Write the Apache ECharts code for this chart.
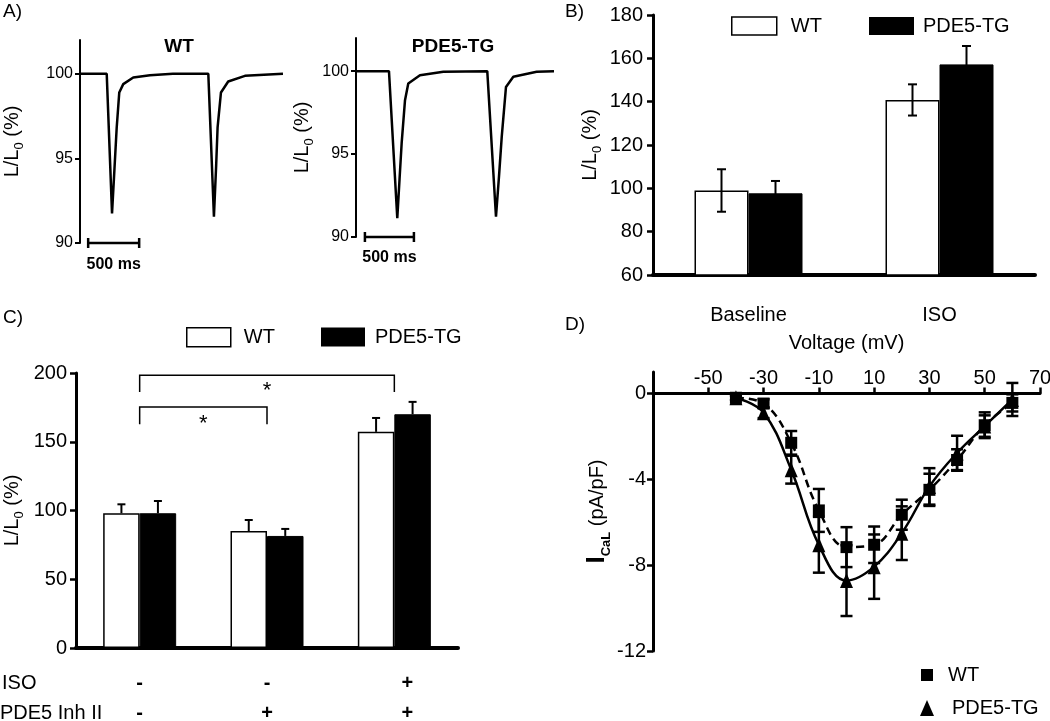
<!DOCTYPE html>
<html><head><meta charset="utf-8">
<script src="https://cdn.jsdelivr.net/npm/echarts@6/dist/echarts.min.js"></script>
<style>html,body{margin:0;padding:0;background:#fff}#c{width:1050px;height:721px}</style>
</head><body><div id="c"></div>
<script>
// ---------- Panel A: cell shortening traces (time in ms, L/L0 in %) ----------
const traceWT = [[0,100],[262,100],[314,91.75],[338,94.4],[360,96.84],[385,98.9],[424,99.39],[522,99.78],[686,99.92],[911,100],[1258,100],[1313,91.55],[1335,94.6],[1349,96.84],[1382,98.9],[1453,99.55],[1617,99.88],[1990,100]];
const traceTG = [[0,100],[333,100],[417,91.13],[440,93.5],[461,95.64],[495,98.25],[528,99.26],[646,99.76],[882,99.96],[1326,100],[1414,91.22],[1445,93.7],[1472,96.04],[1515,99.05],[1589,99.66],[1825,99.96],[2000,100]];
const scaleBarWT = [[80, 580, 90]];
const scaleBarTG = [[90, 585, 90]];
const scaleBarLabel = '500 ms';
const traceTicks = [90, 95, 100];

// ---------- Panel B ----------
const bCategories = ['Baseline', 'ISO'];
const bWT = [99, 140.8];
const bWTerr = [9.8, 7.2];
const bTG = [97.7, 157.2];
const bTGerr = [5.7, 8.5];

// ---------- Panel C ----------
const cCategories = ['-\n-', '-\n+', '+\n+'];
const cRowNames = ['ISO', 'PDE5 Inh II'];
const cWT = [98, 85.1, 157.2];
const cWTerr = [6.5, 8, 10.1];
const cTG = [98, 81.5, 170];
const cTGerr = [8.9, 5.1, 9];
// [from category, to category, bracket top, bracket end, asterisk level]
const cBrackets = [[0, 2, 198.3, 186.2, 191], [0, 1, 175.3, 162.8, 167.5]];

// ---------- Panel D ----------
const dVoltage = [-40, -30, -20, -10, 0, 10, 20, 30, 40, 50, 60];
const dWT    = [-0.2, -0.47, -2.3, -5.45, -7.16, -7.05, -5.65, -4.49, -3.1, -1.48, -0.44];
const dWTerr = [0.1, 0.2, 0.55, 1.0, 0.93, 0.85, 0.7, 0.75, 0.5, 0.6, 0.4];
const dTG    = [-0.2, -0.9, -3.55, -7.05, -8.72, -8.07, -6.51, -4.33, -2.77, -1.52, -0.28];
const dTGerr = [0.1, 0.25, 0.65, 1.3, 1.65, 1.5, 1.25, 0.85, 0.8, 0.5, 0.77];
const dYTicks = [-12, -8, -4, 0];

const FF = "'Liberation Sans', Arial, sans-serif";
const BLACK = '#000';

function txt(x, y, text, size, weight, align) {
  return { type: 'text', x: x, y: y, silent: true,
    style: { text: text, fill: BLACK, font: (weight || 'normal') + ' ' + size + 'px ' + FF,
      fontSize: size, fontWeight: weight || 'normal', fontFamily: FF,
      align: align || 'left', textAlign: align || 'left', verticalAlign: 'middle', textVerticalAlign: 'middle' } };
}

function errRender(offset, capW, upOnly, lw) {
  return function (params, api) {
    const c = api.value(0), v = api.value(1), e = api.value(2);
    const top = api.coord([c, v + e]);
    const bot = api.coord([c, upOnly ? v : v - e]);
    const x = top[0] + offset;
    const st = { stroke: BLACK, lineWidth: lw, fill: null };
    const ch = [
      { type: 'line', shape: { x1: x, y1: bot[1], x2: x, y2: top[1] }, style: st },
      { type: 'line', shape: { x1: x - capW / 2, y1: top[1], x2: x + capW / 2, y2: top[1] }, style: st }
    ];
    if (!upOnly) ch.push({ type: 'line', shape: { x1: x - capW / 2, y1: bot[1], x2: x + capW / 2, y2: bot[1] }, style: st });
    return { type: 'group', children: ch };
  };
}

function scaleBarRender(labelDy) {
  return function (params, api) {
    const p1 = api.coord([api.value(0), api.value(2)]);
    const p2 = api.coord([api.value(1), api.value(2)]);
    const st = { stroke: BLACK, lineWidth: 2.5, fill: null };
    return { type: 'group', children: [
      { type: 'line', shape: { x1: p1[0], y1: p1[1], x2: p2[0], y2: p2[1] }, style: st },
      { type: 'line', shape: { x1: p1[0], y1: p1[1] - 5, x2: p1[0], y2: p1[1] + 5 }, style: st },
      { type: 'line', shape: { x1: p2[0], y1: p2[1] - 5, x2: p2[0], y2: p2[1] + 5 }, style: st },
      { type: 'text', x: (p1[0] + p2[0]) / 2, y: p1[1] + labelDy,
        style: { text: scaleBarLabel, fill: BLACK, font: 'bold 16px ' + FF, fontSize: 16, fontWeight: 'bold', fontFamily: FF,
          align: 'center', textAlign: 'center', verticalAlign: 'middle', textVerticalAlign: 'middle' } }
    ]};
  };
}

function bracketRender(params, api) {
  const a = api.value(0), b = api.value(1), yt = api.value(2), ye = api.value(3), ys = api.value(4);
  const pA = api.coord([a, yt]), pB = api.coord([b, yt]);
  const eA = api.coord([a, ye]);
  const s = api.coord([a, ys]);
  return { type: 'group', children: [
    { type: 'polyline', shape: { points: [[pA[0], eA[1]], [pA[0], pA[1]], [pB[0], pB[1]], [pB[0], eA[1]]] },
      style: { stroke: BLACK, lineWidth: 1.5, fill: null } },
    { type: 'text', x: (pA[0] + pB[0]) / 2, y: s[1] + 6,
      style: { text: '*', fill: BLACK, font: '22px ' + FF, fontSize: 22, fontFamily: FF,
        align: 'center', textAlign: 'center', verticalAlign: 'middle', textVerticalAlign: 'middle' } }
  ]};
}

const subRich = {
  n: { fontSize: 20, fontFamily: FF, color: BLACK, lineHeight: 28 },
  s: { fontSize: 13, fontFamily: FF, color: BLACK, lineHeight: 28, verticalAlign: 'bottom' },
  b: { fontSize: 26, fontFamily: FF, color: BLACK, fontWeight: 'bold', lineHeight: 32 },
  sb: { fontSize: 13, fontFamily: FF, color: BLACK, fontWeight: 'bold', lineHeight: 32, verticalAlign: 'bottom' },
  n2: { fontSize: 20, fontFamily: FF, color: BLACK, lineHeight: 32 }
};
const LLname = '{n|L/L}{s|0}{n| (%)}';

function traceY(gridIdx, gap) {
  return { gridIndex: gridIdx, type: 'value', min: 90, max: 102,
    axisLine: { show: true, lineStyle: { color: BLACK, width: 2 } },
    axisTick: { show: true, customValues: traceTicks, length: 5, lineStyle: { color: BLACK, width: 2 } },
    axisLabel: { customValues: traceTicks, color: BLACK, fontSize: 16, fontFamily: FF, margin: 7 },
    splitLine: { show: false },
    name: LLname, nameLocation: 'middle', nameRotate: 90, nameGap: gap, nameTextStyle: { rich: subRich } };
}
function hiddenX(gridIdx, max) {
  return { gridIndex: gridIdx, type: 'value', min: 0, max: max, show: false, splitLine: { show: false } };
}

const barWT = { color: '#fff', borderColor: BLACK, borderWidth: 1.5 };
const barTG = { color: BLACK, borderColor: BLACK, borderWidth: 1 };
const legWT = { name: 'WT', icon: 'rect', itemStyle: { color: '#fff', borderColor: BLACK, borderWidth: 1.5 } };
const legTG = { name: 'PDE5-TG', icon: 'rect', itemStyle: { color: BLACK, borderColor: BLACK, borderWidth: 0 } };

function legend(item, left, top, w, h, padLeft) {
  return { data: [item], left: left, top: top, itemWidth: w, itemHeight: h, padding: 0, selectedMode: false,
    textStyle: { fontSize: 20, fontFamily: FF, color: BLACK, padding: [0, 0, 0, padLeft] } };
}

const option = {
  animation: false,
  backgroundColor: '#fff',
  textStyle: { fontFamily: FF, color: BLACK },
  grid: [
    { left: 80, top: 40, width: 204, height: 203, outerBoundsMode: 'none' },
    { left: 356, top: 38, width: 198, height: 199, outerBoundsMode: 'none' },
    { left: 653, top: 15, width: 382, height: 260, outerBoundsMode: 'none' },
    { left: 76, top: 373, width: 382, height: 275, outerBoundsMode: 'none' },
    { left: 653, top: 372, width: 387, height: 279, outerBoundsMode: 'none' }
  ],
  xAxis: [
    hiddenX(0, 2000),
    hiddenX(1, 2000),
    { gridIndex: 2, type: 'category', data: bCategories,
      axisLine: { lineStyle: { color: BLACK, width: 4 } }, axisTick: { show: false },
      axisLabel: { color: BLACK, fontSize: 20, fontFamily: FF, margin: 30 } },
    { gridIndex: 3, type: 'category',
      data: [{ value: cCategories[0] }, { value: cCategories[1] }, { value: cCategories[2], textStyle: { padding: [0, 0, 0, 26] } }],
      axisLine: { lineStyle: { color: BLACK, width: 4 } }, axisTick: { show: false },
      axisLabel: { color: BLACK, fontSize: 20, fontWeight: 'bold', fontFamily: FF, margin: 20, lineHeight: 30 } },
    { gridIndex: 4, type: 'value', min: -70, max: 70, interval: 20, position: 'top',
      axisLine: { onZero: true, lineStyle: { color: BLACK, width: 3 } },
      axisTick: { show: true, length: 6, lineStyle: { color: BLACK, width: 2.5 } },
      axisLabel: { showMinLabel: false, color: BLACK, fontSize: 20, fontFamily: FF, margin: -16 },
      splitLine: { show: false },
      name: 'Voltage (mV)', nameLocation: 'middle', nameGap: 19,
      nameTextStyle: { fontSize: 20, fontFamily: FF, color: BLACK } }
  ],
  yAxis: [
    traceY(0, 54),
    traceY(1, 40),
    { gridIndex: 2, type: 'value', min: 60, max: 180, interval: 20,
      axisLine: { show: true, lineStyle: { color: BLACK, width: 3 } },
      axisTick: { show: true, length: 6, lineStyle: { color: BLACK, width: 2.5 } },
      axisLabel: { color: BLACK, fontSize: 20, fontFamily: FF, margin: 10 },
      splitLine: { show: false },
      name: LLname, nameLocation: 'middle', nameRotate: 90, nameGap: 49, nameTextStyle: { rich: subRich } },
    { gridIndex: 3, type: 'value', min: 0, max: 200, interval: 50,
      axisLine: { show: true, lineStyle: { color: BLACK, width: 3 } },
      axisTick: { show: true, length: 6, lineStyle: { color: BLACK, width: 2.5 } },
      axisLabel: { color: BLACK, fontSize: 20, fontFamily: FF, margin: 9 },
      splitLine: { show: false },
      name: LLname, nameLocation: 'middle', nameRotate: 90, nameGap: 50, nameTextStyle: { rich: subRich } },
    { gridIndex: 4, type: 'value', min: -12, max: 1,
      axisLine: { show: true, onZero: false, lineStyle: { color: BLACK, width: 3 } },
      axisTick: { show: true, customValues: dYTicks, length: 6, lineStyle: { color: BLACK, width: 2.5 } },
      axisLabel: { customValues: dYTicks, color: BLACK, fontSize: 20, fontFamily: FF, margin: 7 },
      splitLine: { show: false },
      name: '{b|I}{sb|CaL}{n2| (pA/pF)}', nameLocation: 'middle', nameRotate: 90, nameGap: 40,
      nameTextStyle: { rich: subRich } }
  ],
  legend: [
    legend(legWT, 731, 16, 45, 18, 9),
    legend(legTG, 869, 16, 45, 18, 4),
    legend(legWT, 186, 327, 44, 19, 8),
    legend(legTG, 321, 327, 44, 19, 5),
    legend({ name: 'WT', icon: 'rect', itemStyle: { color: BLACK, borderWidth: 0 } }, 921, 665, 12, 12, 10),
    legend({ name: 'PDE5-TG', icon: 'triangle', itemStyle: { color: BLACK, borderWidth: 0 } }, 920, 698, 14, 16, 13)
  ],
  graphic: [
    txt(3, 12, 'A)', 19),
    txt(565, 12, 'B)', 19),
    txt(3, 318, 'C)', 19),
    txt(565, 325, 'D)', 19),
    txt(179, 47, 'WT', 19, 'bold', 'center'),
    txt(453, 47, 'PDE5-TG', 19, 'bold', 'center'),
    txt(2, 683, cRowNames[0], 20),
    txt(0, 713, cRowNames[1], 20)
  ],
  series: [
    // Panel B bars
    { name: 'WT', type: 'bar', xAxisIndex: 2, yAxisIndex: 2, data: bWT, barWidth: 54, barGap: '0%', itemStyle: barWT, z: 2 },
    { name: 'PDE5-TG', type: 'bar', xAxisIndex: 2, yAxisIndex: 2, data: bTG, barWidth: 54, barGap: '0%', itemStyle: barTG, z: 2 },
    { type: 'custom', xAxisIndex: 2, yAxisIndex: 2, z: 3, renderItem: errRender(-27, 9, false, 2),
      data: bWT.map((v, i) => [i, v, bWTerr[i]]) },
    { type: 'custom', xAxisIndex: 2, yAxisIndex: 2, z: 3, renderItem: errRender(27, 9, false, 2),
      data: bTG.map((v, i) => [i, v, bTGerr[i]]) },
    // Panel C bars
    { name: 'WT', type: 'bar', xAxisIndex: 3, yAxisIndex: 3, data: cWT, barWidth: 36.5, barGap: '0%', itemStyle: barWT, z: 2 },
    { name: 'PDE5-TG', type: 'bar', xAxisIndex: 3, yAxisIndex: 3, data: cTG, barWidth: 36.5, barGap: '0%', itemStyle: barTG, z: 2 },
    { type: 'custom', xAxisIndex: 3, yAxisIndex: 3, z: 3, renderItem: errRender(-18.25, 8, true, 2),
      data: cWT.map((v, i) => [i, v, cWTerr[i]]) },
    { type: 'custom', xAxisIndex: 3, yAxisIndex: 3, z: 3, renderItem: errRender(18.25, 8, true, 2),
      data: cTG.map((v, i) => [i, v, cTGerr[i]]) },
    { type: 'custom', xAxisIndex: 3, yAxisIndex: 3, z: 4, renderItem: bracketRender, data: cBrackets },
    // Panel A traces
    { type: 'line', xAxisIndex: 0, yAxisIndex: 0, data: traceWT, showSymbol: false, symbol: 'none',
      lineStyle: { color: BLACK, width: 2.5 } },
    { type: 'line', xAxisIndex: 1, yAxisIndex: 1, data: traceTG, showSymbol: false, symbol: 'none',
      lineStyle: { color: BLACK, width: 2.5 } },
    { type: 'custom', xAxisIndex: 0, yAxisIndex: 0, renderItem: scaleBarRender(22), data: scaleBarWT, clip: false },
    { type: 'custom', xAxisIndex: 1, yAxisIndex: 1, renderItem: scaleBarRender(21), data: scaleBarTG, clip: false },
    // Panel D
    { type: 'custom', xAxisIndex: 4, yAxisIndex: 4, z: 2, renderItem: errRender(0, 12, false, 2.5),
      data: dVoltage.map((v, i) => [v, dWT[i], dWTerr[i]]) },
    { type: 'custom', xAxisIndex: 4, yAxisIndex: 4, z: 2, renderItem: errRender(0, 12, false, 2.5),
      data: dVoltage.map((v, i) => [v, dTG[i], dTGerr[i]]) },
    { name: 'WT', type: 'line', xAxisIndex: 4, yAxisIndex: 4, z: 3, smooth: 0.4,
      data: dVoltage.map((v, i) => [v, dWT[i]]),
      symbol: 'rect', symbolSize: 12, itemStyle: { color: BLACK },
      lineStyle: { color: BLACK, width: 2.5, type: [8, 5] } },
    { name: 'PDE5-TG', type: 'line', xAxisIndex: 4, yAxisIndex: 4, z: 3, smooth: 0.4,
      data: dVoltage.map((v, i) => [v, dTG[i]]),
      symbol: 'triangle', symbolSize: [13, 15], itemStyle: { color: BLACK },
      lineStyle: { color: BLACK, width: 2.5 } }
  ]
};

const chart = echarts.init(document.getElementById('c'), null, { renderer: 'canvas' });
chart.setOption(option);
</script>
</body></html>
